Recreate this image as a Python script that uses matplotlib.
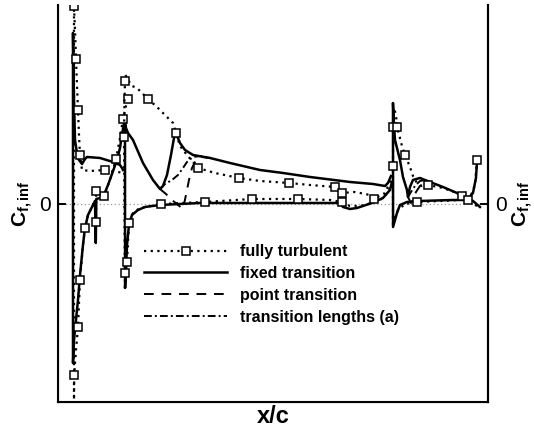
import numpy as np
import matplotlib
matplotlib.use("Agg")
import matplotlib.pyplot as plt
from matplotlib.lines import Line2D

# Skin friction (Cf,inf x 10^4) along a three-element airfoil: slat, main, flap.
# Each surface is given from its leading edge towards its trailing edge.

# ---- fixed transition ----
fx_slat_upper_x = [0.0, 0.0025, 0.005, 0.01, 0.015, 0.0225, 0.03, 0.035, 0.0675, 0.1, 0.1175, 0.1225, 0.125]
fx_slat_upper_cf = [171, 104, 64, 51, 44, 40, 45, 47, 46, 42, 39, 36, 34]
fx_slat_lower_x = [0.0, 0.0025, 0.0075, 0.0125, 0.0175, 0.025, 0.03, 0.0375, 0.0475, 0.055, 0.057, 0.0583,
                   0.0675, 0.0775, 0.0875, 0.0975, 0.11, 0.1175, 0.1225, 0.1275]
fx_slat_lower_cf = [-159, -136, -116, -96, -71, -41, -24, -11, -3, 3, -39, 5, 6, 9, 19, 30, 44, 56, 69, 81]

fx_main_upper_x = [0.13, 0.1325, 0.1375, 0.15, 0.175, 0.2, 0.2175, 0.225, 0.235, 0.245, 0.2525, 0.2575, 0.2675,
                   0.28, 0.3, 0.3425, 0.3925, 0.4675, 0.525, 0.5925, 0.6925, 0.75, 0.78, 0.7875, 0.795]
fx_main_upper_cf = [81, 76, 71, 64, 41, 24, 15, 18, 29, 49, 66, 71, 61, 54, 49, 46, 41, 34, 31, 27, 22, 20, 18, 21, 28]
fx_main_lower_x = [0.1302, 0.1325, 0.135, 0.14, 0.1475, 0.1625, 0.18, 0.2175, 0.3175, 0.4425, 0.5675, 0.6675,
                   0.675, 0.6925, 0.71, 0.7475, 0.775, 0.7925, 0.7975]
fx_main_lower_cf = [-84, -66, -41, -21, -11, -6, -3, -1, 1, 1, 1, 1, -3, -5, -4, 1, 6, 14, 22]

fx_flap_upper_x = [0.8, 0.8025, 0.805, 0.8175, 0.825, 0.835, 0.8375, 0.8425, 0.85, 0.8675, 0.8925, 0.925, 0.96,
                   0.985, 1.0, 1.0175]
fx_flap_upper_cf = [101, 79, 64, 44, 27, 14, 7, 17, 24, 26, 22, 17, 11, 6, 3, -3]
fx_flap_lower_x = [0.8002, 0.81, 0.8175, 0.835, 0.8675, 0.95, 0.985, 1.0, 1.0075, 1.01]
fx_flap_lower_cf = [-23, -9, -1, 2, 3, 4, 4, 11, 26, 42]

# ---- fully turbulent ----
ft_slat_upper_x = [0.0025, 0.005, 0.0075, 0.01, 0.0125, 0.015, 0.0175, 0.0225, 0.0425, 0.08, 0.105, 0.1225]
ft_slat_upper_cf = [198, 174, 145, 119, 94, 69, 49, 34, 33, 34, 33, 31]
ft_slat_lower_x = [0.0025, 0.003, 0.0075, 0.0125, 0.0175, 0.025, 0.03, 0.0375, 0.0475, 0.055, 0.0575, 0.058,
                   0.0675, 0.0775, 0.0925, 0.1075, 0.1175, 0.125, 0.1325, 0.1375]
ft_slat_lower_cf = [-196, -171, -146, -123, -76, -41, -24, -11, -3, 4, -18, 13, 9, 8, 24, 45, 66, 85, 98, 105]

ft_main_upper_x = [0.1275, 0.1288, 0.13, 0.1312, 0.1375, 0.1475, 0.16, 0.1875, 0.21, 0.235, 0.25, 0.2575, 0.2675,
                   0.285, 0.3125, 0.355, 0.415, 0.4675, 0.54, 0.5925, 0.655, 0.6725, 0.705, 0.7425, 0.7525, 0.78,
                   0.7975]
ft_main_upper_cf = [67, 104, 123, 129, 124, 118, 116, 105, 97, 87, 81, 71, 58, 49, 36, 31, 26, 23, 21, 19, 17, 11,
                    12, 9, 5, 11, 27]
ft_main_lower_x = [0.13, 0.1308, 0.135, 0.14, 0.15, 0.1675, 0.22, 0.33, 0.4475, 0.5625, 0.6425, 0.6725, 0.6925,
                   0.7175, 0.7475, 0.7675, 0.78, 0.7925]
ft_main_lower_cf = [-86, -69, -58, -19, -9, -4, 0, 2, 5, 5, 4, 2, -2, -2, 1, 4, 8, 16]

ft_flap_upper_x = [0.8, 0.8005, 0.8025, 0.8075, 0.81, 0.8175, 0.8225, 0.83, 0.8425, 0.85, 0.86, 0.8725, 0.8875,
                   0.925, 0.96, 0.9725, 0.9875, 1.0, 1.0125]
ft_flap_upper_cf = [38, 77, 96, 89, 77, 66, 58, 49, 37, 28, 21, 18, 19, 16, 11, 8, 4, 1, -3]
ft_flap_lower_x = [0.8, 0.8025, 0.8125, 0.83, 0.86, 0.9175, 0.9675, 0.9925, 1.005, 1.01]
ft_flap_lower_cf = [-23, -16, -6, 0, 2, 3, 4, 6, 19, 44]

# ---- point transition (where it departs from the fixed-transition curve) ----
pt_main_x = [0.2175, 0.2325, 0.2475, 0.2625, 0.275, 0.2825, 0.29, 0.2975, 0.3075, 0.3225, 0.3425]
pt_main_cf = [15, 10, 4, -1, -5, 9, 24, 36, 44, 47, 46]
pt_flap_x = [0.8375, 0.845, 0.85, 0.8575, 0.8675, 0.88, 0.8925]
pt_flap_cf = [7, 1, 4, 12, 18, 22, 22]

# ---- transition lengths (a) ----
tl_main_x = [0.2175, 0.23, 0.2475, 0.2625, 0.275, 0.285, 0.3, 0.3175, 0.3425]
tl_main_cf = [15, 20, 24, 29, 36, 42, 47, 48, 46]
tl_flap_x = [0.8375, 0.845, 0.855, 0.8675, 0.88, 0.8925]
tl_flap_cf = [7, 12, 18, 23, 24, 22]

legend_labels = ["fully turbulent", "fixed transition", "point transition", "transition lengths (a)"]

plt.rcParams["font.family"] = ["Liberation Sans", "DejaVu Sans"]
plt.rcParams["mathtext.fontset"] = "custom"
plt.rcParams["mathtext.bf"] = "Liberation Sans:bold"
plt.rcParams["mathtext.rm"] = "Liberation Sans"
plt.rcParams["mathtext.it"] = "Liberation Sans:italic"


def wrap(lx, ly, ux, uy):
    """Join lower (TE->LE, reversed) and upper (LE->TE) into one closed-surface trace."""
    x = np.r_[np.asarray(lx, float)[::-1], np.asarray(ux, float)]
    y = np.r_[np.asarray(ly, float)[::-1], np.asarray(uy, float)]
    return x, y


def mark_idx(n_lower, lower_idx, upper_idx):
    return sorted([n_lower - 1 - i for i in lower_idx] + [n_lower + i for i in upper_idx])


fig = plt.figure(figsize=(5.34, 4.33), dpi=100)
ax = fig.add_axes([0.1086, 0.0716, 0.8052, 0.9169])

DOT = (0, (1, 2))
DASH = (0, (5, 4))
DASHDOT = (0, (4, 1.6, 1, 1.6))
sq = dict(marker="s", ms=5.2, mfc="white", mec="black", mew=1.1)

ax.axhline(0, color="#9a9a9a", lw=0.9, ls=(0, (1, 2)), zorder=1)

# fixed transition
for lx, ly, ux, uy in [(fx_slat_lower_x, fx_slat_lower_cf, fx_slat_upper_x, fx_slat_upper_cf),
                       (fx_main_lower_x, fx_main_lower_cf, fx_main_upper_x, fx_main_upper_cf),
                       (fx_flap_lower_x, fx_flap_lower_cf, fx_flap_upper_x, fx_flap_upper_cf)]:
    x, y = wrap(lx, ly, ux, uy)
    ax.plot(x, y, color="black", lw=1.8, solid_joinstyle="round", zorder=3)

# point transition and transition-length model
for px_, py_ in [(pt_main_x, pt_main_cf), (pt_flap_x, pt_flap_cf)]:
    ax.plot(px_, py_, color="black", lw=1.4, ls=DASH, zorder=2)
for px_, py_ in [(tl_main_x, tl_main_cf), (tl_flap_x, tl_flap_cf)]:
    ax.plot(px_, py_, color="black", lw=1.4, ls=DASHDOT, zorder=2)

# fully turbulent, with square symbols on selected nodes
ft_sets = [
    (ft_slat_lower_x, ft_slat_lower_cf, ft_slat_upper_x, ft_slat_upper_cf,
     [1, 3, 4, 6, 10, 11, 13, 15, 17, 19], [0, 2, 4, 6, 9]),
    (ft_main_lower_x, ft_main_lower_cf, ft_main_upper_x, ft_main_upper_cf,
     [1, 2, 3, 6, 7, 8, 9, 11], [0, 2, 7, 11, 14, 16, 18, 20, 21, 24]),
    (ft_flap_lower_x, ft_flap_lower_cf, ft_flap_upper_x, ft_flap_upper_cf,
     [4, 9], [0, 1, 4, 7, 12, 15, 16]),
]
for lx, ly, ux, uy, li, ui in ft_sets:
    x, y = wrap(lx, ly, ux, uy)
    ax.plot(x, y, color="black", lw=1.6, ls=DOT, zorder=4,
            markevery=mark_idx(len(lx), li, ui), **sq)

ax.set_xlim(-0.0375, 1.0375)
ax.set_ylim(-198, 199)
ax.set_xticks([])
ax.set_yticks([0])
ax.tick_params(axis="y", direction="in", length=6, width=1.4, labelsize=15, pad=5)
for side in ("left", "right", "bottom"):
    ax.spines[side].set_linewidth(1.5)
ax.spines["top"].set_visible(False)

ylab = r"$\mathbf{C_{f,inf}}$"
ax.set_ylabel(ylab, fontsize=15, labelpad=3)
ax.set_xlabel("x/c", fontsize=17, fontweight="bold", labelpad=2)

ax2 = ax.twinx()
ax2.set_ylim(ax.get_ylim())
ax2.set_yticks([0])
ax2.tick_params(axis="y", direction="in", length=6, width=1.4, labelsize=15, pad=5)
ax2.spines["top"].set_visible(False)
ax2.spines["right"].set_linewidth(1.5)
ax2.set_ylabel(ylab, fontsize=15, labelpad=3)

handles = [
    Line2D([], [], color="black", lw=1.6, ls=DOT, **sq),
    Line2D([], [], color="black", lw=1.8),
    Line2D([], [], color="black", lw=1.4, ls=DASH),
    Line2D([], [], color="black", lw=1.4, ls=DASHDOT),
]
ax.legend(handles, legend_labels, loc="upper left", bbox_to_anchor=(0.2, 0.397),
          frameon=False, borderaxespad=0, borderpad=0, numpoints=1,
          handlelength=5.2, handletextpad=0.8, labelspacing=0.42,
          prop=dict(family="Liberation Sans", weight="bold", size=11.5))

fig.savefig("out.png", dpi=100)
